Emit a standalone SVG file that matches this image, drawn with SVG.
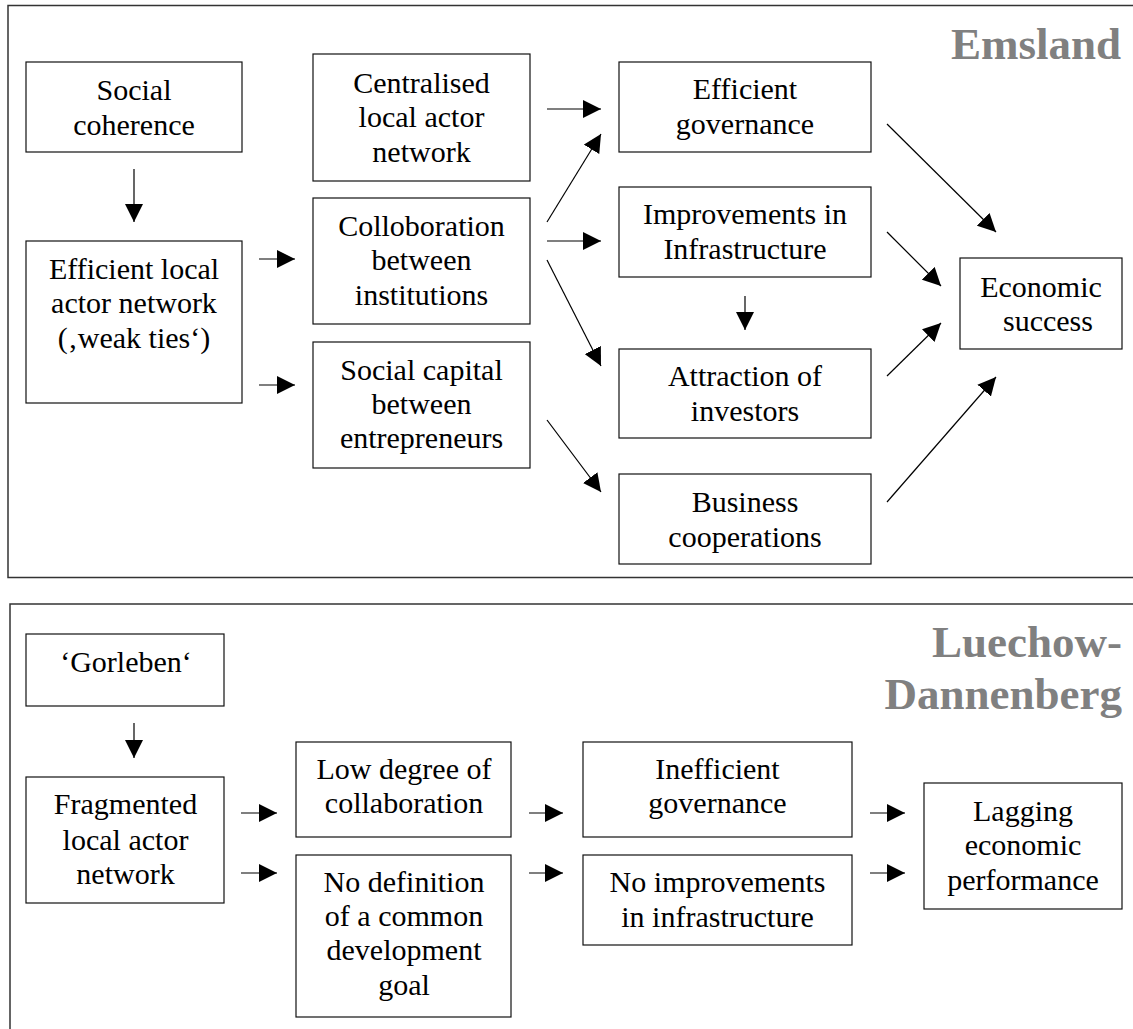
<svg xmlns="http://www.w3.org/2000/svg" width="1133" height="1029" viewBox="0 0 1133 1029">
<style>
  .frame{fill:none;stroke:#333;stroke-width:1.5}
  .box{fill:#fff;stroke:#111;stroke-width:1.2}
  .t{font-family:"Liberation Serif","Times New Roman",serif;font-size:30px;fill:#000;text-anchor:middle}
  .title{font-family:"Liberation Serif","Times New Roman",serif;font-size:45px;font-weight:bold;fill:#808080;text-anchor:end}
  .c line{stroke:#000;stroke-width:1.2;marker-end:url(#ah)}
</style>
<defs>
  <marker id="ah" markerWidth="18" markerHeight="18" refX="18" refY="9" orient="auto" markerUnits="userSpaceOnUse" viewBox="0 0 18 18">
    <path d="M0,0 L18,9 L0,18 Z" fill="#000"/>
  </marker>
</defs>
<rect width="1133" height="1029" fill="#fff"/>

<!-- Panel frames -->
<rect class="frame" x="8" y="5.5" width="1140" height="572"/>
<rect class="frame" x="10" y="604" width="1140" height="440"/>

<text class="title" x="1121" y="59">Emsland</text>
<text class="title" x="1122" y="657">Luechow-</text>
<text class="title" x="1122" y="709">Dannenberg</text>

<!-- Panel 1 nodes -->
<g id="social-coherence">
  <rect class="box" x="26" y="62" width="216" height="90"/>
  <text class="t" x="134" y="99.5">Social</text>
  <text class="t" x="134" y="134.5">coherence</text>
</g>
<g id="efficient-local">
  <rect class="box" x="26" y="241" width="216" height="162"/>
  <text class="t" x="134" y="278.5">Efficient local</text>
  <text class="t" x="134" y="313">actor network</text>
  <text class="t" x="134" y="347.5">(‚weak ties‘)</text>
</g>
<g id="centralised">
  <rect class="box" x="313" y="54" width="217" height="127"/>
  <text class="t" x="421.5" y="93">Centralised</text>
  <text class="t" x="421.5" y="127">local actor</text>
  <text class="t" x="421.5" y="161.5">network</text>
</g>
<g id="colloboration">
  <rect class="box" x="313" y="198" width="217" height="126"/>
  <text class="t" x="421.5" y="235.5">Colloboration</text>
  <text class="t" x="421.5" y="270">between</text>
  <text class="t" x="421.5" y="305">institutions</text>
</g>
<g id="social-capital">
  <rect class="box" x="313" y="342" width="217" height="126"/>
  <text class="t" x="421.5" y="379.5">Social capital</text>
  <text class="t" x="421.5" y="414">between</text>
  <text class="t" x="421.5" y="448">entrepreneurs</text>
</g>
<g id="efficient-governance">
  <rect class="box" x="619" y="62" width="252" height="90"/>
  <text class="t" x="745" y="98.5">Efficient</text>
  <text class="t" x="745" y="134">governance</text>
</g>
<g id="improvements">
  <rect class="box" x="619" y="187" width="252" height="90"/>
  <text class="t" x="745" y="224">Improvements in</text>
  <text class="t" x="745" y="259">Infrastructure</text>
</g>
<g id="attraction">
  <rect class="box" x="619" y="349" width="252" height="89"/>
  <text class="t" x="745" y="386">Attraction of</text>
  <text class="t" x="745" y="421">investors</text>
</g>
<g id="business">
  <rect class="box" x="619" y="474" width="252" height="90"/>
  <text class="t" x="745" y="511.5">Business</text>
  <text class="t" x="745" y="546.5">cooperations</text>
</g>
<g id="economic-success">
  <rect class="box" x="960" y="258" width="162" height="91"/>
  <text class="t" x="1041" y="296.5">Economic</text>
  <text class="t" x="1048" y="330.5">success</text>
</g>

<!-- Panel 2 nodes -->
<g id="gorleben">
  <rect class="box" x="26" y="634" width="198" height="72"/>
  <text class="t" x="126" y="671.5">‘Gorleben‘</text>
</g>
<g id="fragmented">
  <rect class="box" x="26" y="777" width="198" height="126"/>
  <text class="t" x="125.5" y="814">Fragmented</text>
  <text class="t" x="125.5" y="849.5">local actor</text>
  <text class="t" x="125.5" y="884">network</text>
</g>
<g id="low-degree">
  <rect class="box" x="296" y="742" width="215" height="95"/>
  <text class="t" x="404" y="778.5">Low degree of</text>
  <text class="t" x="404" y="812.5">collaboration</text>
</g>
<g id="no-definition">
  <rect class="box" x="296" y="855" width="215" height="162"/>
  <text class="t" x="404" y="891.5">No definition</text>
  <text class="t" x="404" y="926">of a common</text>
  <text class="t" x="404" y="960">development</text>
  <text class="t" x="404" y="995">goal</text>
</g>
<g id="inefficient-governance">
  <rect class="box" x="583" y="742" width="269" height="95"/>
  <text class="t" x="717.5" y="778.5">Inefficient</text>
  <text class="t" x="717.5" y="812.5">governance</text>
</g>
<g id="no-improvements">
  <rect class="box" x="583" y="855" width="269" height="90"/>
  <text class="t" x="717.5" y="891.5">No improvements</text>
  <text class="t" x="717.5" y="926.5">in infrastructure</text>
</g>
<g id="lagging">
  <rect class="box" x="924" y="783" width="198" height="126"/>
  <text class="t" x="1023" y="820.5">Lagging</text>
  <text class="t" x="1023" y="855">economic</text>
  <text class="t" x="1023" y="889.5">performance</text>
</g>

<!-- Connectors -->
<g id="connectors" class="c">
  <line x1="134" y1="169" x2="134" y2="222"/>
  <line x1="259" y1="259" x2="295" y2="259"/>
  <line x1="259" y1="385" x2="295" y2="385"/>
  <line x1="547" y1="109" x2="601" y2="109"/>
  <line x1="547" y1="222" x2="601" y2="134"/>
  <line x1="547" y1="241" x2="601" y2="241"/>
  <line x1="547" y1="260" x2="601" y2="366"/>
  <line x1="547" y1="420" x2="601" y2="492"/>
  <line x1="745" y1="296" x2="745" y2="330"/>
  <line x1="887" y1="124" x2="996" y2="232"/>
  <line x1="887" y1="232" x2="941" y2="286"/>
  <line x1="887" y1="376" x2="941" y2="323"/>
  <line x1="887" y1="502" x2="996" y2="377"/>
  <line x1="134" y1="723" x2="134" y2="758"/>
  <line x1="241" y1="813" x2="277" y2="813"/>
  <line x1="241" y1="873" x2="277" y2="873"/>
  <line x1="529" y1="813" x2="563" y2="813"/>
  <line x1="529" y1="873" x2="563" y2="873"/>
  <line x1="870" y1="813" x2="905" y2="813"/>
  <line x1="870" y1="873" x2="905" y2="873"/>
</g>
</svg>
